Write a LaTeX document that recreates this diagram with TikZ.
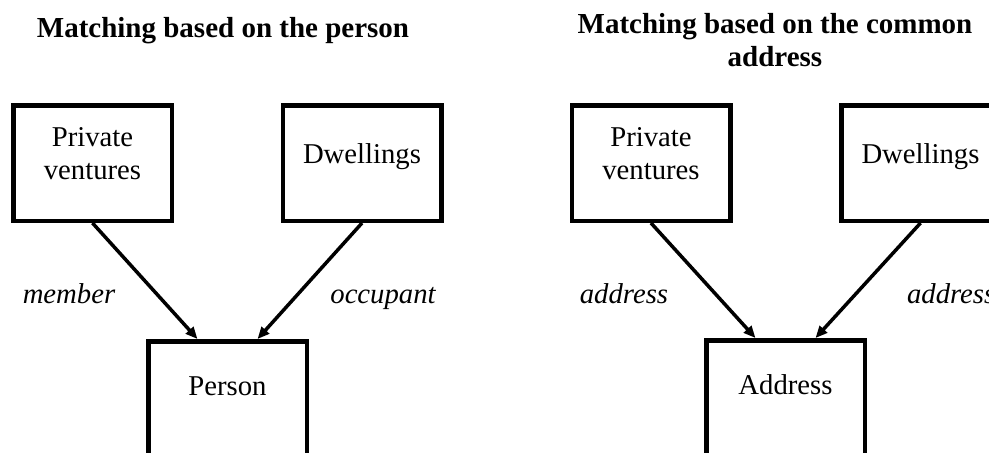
\documentclass[tikz,border=0pt]{standalone}
\usepackage{fontspec}
\setmainfont{Liberation Serif}
\usetikzlibrary{arrows.meta,positioning,calc}

\begin{document}
\begin{tikzpicture}[
    x=0.5pt, y=-0.5pt,
    >={Triangle[length=6pt,width=5pt]},
    entity/.style={
        rectangle,
        draw=black,
        line width=2.25pt,
        minimum width=79.25pt,
        minimum height=57.75pt,
        font=\fontsize{14.35}{16.5}\selectfont,
        align=center,
        text height=6pt,
        text depth=6pt
    },
    twoline/.style={text height=16pt, text depth=0pt},
    link/.style={->, line width=1.75pt},
    role/.style={font=\fontsize{14.35}{16.5}\selectfont\itshape, anchor=base},
    heading/.style={font=\fontsize{14.5}{16.5}\selectfont\bfseries, align=center, anchor=base}
]
\useasboundingbox (0,0) rectangle (989,452);
\clip (0,0) rectangle (989,452);

% Left: matching on the person
\node[heading] (titleL) at (223,37) {Matching based on the person};
\node[entity, twoline] (ventL) at (92.5,163) {Private\\ventures};
\node[entity] (dwellL) at (362,163) {Dwellings};
\node[entity, text depth=8pt, text height=4pt] (person) at (227.5,399) {Person};

\draw[link] (ventL.south) -- ([xshift=-15pt]person.north);
\draw[link] (dwellL.south) -- ([xshift=15pt]person.north);

\node[role] (member) at (69,303) {member};
\node[role] (occupant) at (383,303) {occupant};

% Right: matching on the common address
\node[heading] (titleR) at (775,66) {Matching based on the common\\address};
\node[entity, twoline] (ventR) at (651,163) {Private\\ventures};
\node[entity] (dwellR) at (920.5,163) {Dwellings};
\node[entity, text depth=8pt, text height=4pt] (addr) at (785.5,398) {Address};

\draw[link] (ventR.south) -- ([xshift=-15pt]addr.north);
\draw[link] (dwellR.south) -- ([xshift=15pt]addr.north);

\node[role] (addrL) at (624,303) {address};
\node[role, anchor=base west] (addrR) at (900,303) {address};

\end{tikzpicture}
\end{document}
